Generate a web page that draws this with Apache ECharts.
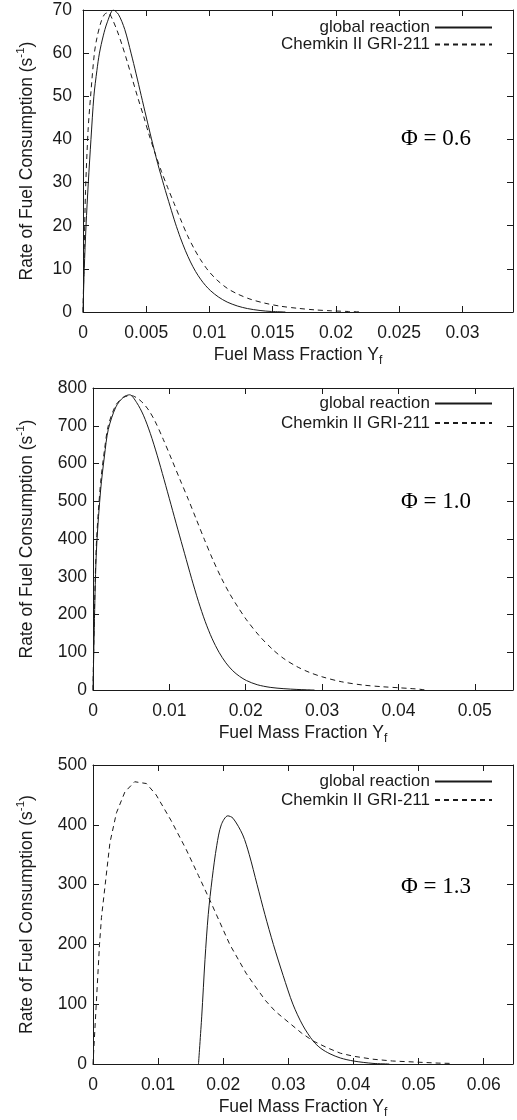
<!DOCTYPE html>
<html>
<head>
<meta charset="utf-8">
<script src="https://cdn.jsdelivr.net/npm/echarts@6/dist/echarts.min.js"></script>
<style>
html,body{margin:0;padding:0;background:#fff;}
#c{width:517px;height:1120px;}
</style>
</head>
<body>
<div id="c"></div>
<script>
// ---- data (x = fuel mass fraction, y = rate of fuel consumption, s^-1) ----
const seriesNames = ['global reaction', 'Chemkin II GRI-211'];
const phiLabels = ['\u03A6 = 0.6', '\u03A6 = 1.0', '\u03A6 = 1.3'];

const global06 = [[0,0],[0.0001,10],[0.00024,20],[0.00042,30],[0.00063,40],[0.00086,50],[0.0011,56],[0.0013,60],[0.0016,64],[0.0019,67],[0.0024,70],[0.0028,69],[0.0033,65.5],[0.0038,60],[0.0042,55.2],[0.0046,50.2],[0.005,45.2],[0.0054,40.3],[0.0059,34.5],[0.0064,29.3],[0.0069,24.4],[0.0073,20.6],[0.0077,17.2],[0.0081,14.2],[0.0085,11.6],[0.0089,9.4],[0.0093,7.6],[0.0097,6.1],[0.0101,4.9],[0.0107,3.5],[0.0114,2.3],[0.0122,1.4],[0.013,0.8],[0.014,0.35],[0.0149,0.12],[0.016,0]];
const gri06 = [[0,0],[0.0001,15],[0.0002,28],[0.0004,42],[0.0006,50],[0.0009,60],[0.0011,63.5],[0.0014,67],[0.0017,69],[0.002,69.4],[0.0023,68],[0.0027,65.2],[0.0031,61.8],[0.0035,58],[0.0039,54],[0.0043,50],[0.0048,45.3],[0.0052,41.3],[0.0057,36.8],[0.0062,32.6],[0.0067,28.8],[0.0072,25.2],[0.0077,21.6],[0.00825,17.8],[0.0088,14.6],[0.0093,12.1],[0.0099,9.6],[0.0106,7.4],[0.0114,5.5],[0.0122,4.2],[0.0132,3],[0.0143,2.1],[0.0156,1.35],[0.017,0.85],[0.0183,0.5],[0.0196,0.28],[0.021,0.12],[0.022,0]];

const global10 = [[0,0],[0.0001,100],[0.0003,280],[0.0005,390],[0.001,530],[0.0015,620],[0.002,690],[0.003,750],[0.004,776],[0.0048,782],[0.0057,762],[0.0066,728],[0.0075,680],[0.0084,622],[0.0093,558],[0.0102,492],[0.0111,426],[0.012,361],[0.0129,296],[0.0138,235],[0.0147,181],[0.0156,136],[0.0165,100],[0.0174,72],[0.0183,51],[0.0192,36],[0.0201,25],[0.0215,14],[0.0232,7],[0.025,3.5],[0.0267,1.5],[0.028,0.5],[0.029,0]];
const gri10 = [[0,0],[0.0001,120],[0.0003,300],[0.0005,410],[0.001,550],[0.0015,635],[0.002,700],[0.003,755],[0.004,775],[0.005,780],[0.0058,773],[0.00655,760],[0.0073,741],[0.0081,713],[0.0092,664],[0.0103,611],[0.0114,557],[0.0125,504],[0.01355,451],[0.0146,398],[0.0157,345],[0.0168,297],[0.0179,255],[0.019,219],[0.0201,186],[0.0218,143],[0.0236,106],[0.025,83],[0.0267,62],[0.0283,47],[0.03,35],[0.0325,22],[0.0354,13],[0.038,8.5],[0.04,6],[0.0415,4],[0.0428,2],[0.0435,0]];

const global13 = [[0.0162,0],[0.0167,80],[0.0172,175],[0.0177,250],[0.0183,310],[0.019,365],[0.0197,400],[0.0207,415],[0.0215,411],[0.023,383],[0.024,350],[0.0252,300],[0.0264,250],[0.0277,200],[0.0292,148],[0.0307,100],[0.0322,65],[0.0338,38.5],[0.035,26],[0.0364,17],[0.038,10],[0.04,5],[0.043,1],[0.0455,0]];
const gri13 = [[0,0],[0.0005,100],[0.001,200],[0.0013,245],[0.0026,370],[0.0036,420],[0.0049,455],[0.0064,472],[0.0082,469],[0.0097,450],[0.012,407],[0.0143,359],[0.0162,315],[0.0182,268],[0.021,200],[0.0235,152],[0.0251,127],[0.0265,106],[0.028,88],[0.03,70],[0.032,52],[0.0338,38.5],[0.036,27],[0.038,18],[0.04,13],[0.043,8],[0.046,5],[0.05,3],[0.053,1.5],[0.055,1]];

// axis ranges / tick steps per panel
const xMax = [0.034, 0.055, 0.0645];
const xStep = [0.005, 0.01, 0.01];
const yMax = [70, 800, 500];
const yStep = [10, 100, 100];

// ---- chart ----
const FONT = '"Liberation Sans", Arial, Helvetica, sans-serif';
const INK = '#1a1a1a';
const FS = 17.5;
const grids = [
  {left: 83, top: 10, width: 430, height: 302},
  {left: 93, top: 388, width: 420, height: 302},
  {left: 93, top: 765, width: 420, height: 302}
];
const legendTops = [19, 395, 773];
const legendGaps = [0, 2.4, 1.6];
const yLabelMargin = [11, 6, 6];
const yNameGap = [47, 57, 57];
const phiPos = [[436, 139], [436, 502], [436, 887]];

function fmt(step) {
  return function (v) {
    const k = v / step;
    if (Math.abs(k - Math.round(k)) > 1e-6) return '';
    return String(+v.toFixed(4));
  };
}
const axisLineStyle = {show: true, onZero: false, lineStyle: {color: INK, width: 1}};
const tickStyle = {show: true, inside: true, length: 6, lineStyle: {color: INK, width: 1}};

const xAxes = [], yAxes = [], series = [], legends = [], graphics = [];
const dataSets = [[global06, gri06], [global10, gri10], [global13, gri13]];

for (let i = 0; i < 3; i++) {
  xAxes.push({
    type: 'value', gridIndex: i, position: 'bottom', min: 0, max: xMax[i], interval: xStep[i],
    axisLine: axisLineStyle, axisTick: tickStyle, splitLine: {show: false},
    axisLabel: {fontSize: FS, fontFamily: FONT, color: INK, margin: 12, formatter: fmt(xStep[i])},
    name: '{a|Fuel Mass Fraction Y}{sub|f}', nameLocation: 'middle', nameGap: 34,
    nameTextStyle: {fontSize: FS, fontFamily: FONT, color: INK,
      rich: {a: {fontSize: FS, fontFamily: FONT, color: INK, lineHeight: 20, verticalAlign: 'top'},
             sub: {fontSize: 12, fontFamily: FONT, color: INK, lineHeight: 12, padding: [9, 0, 0, 0], verticalAlign: 'top'}}}
  });
  xAxes.push({
    type: 'value', gridIndex: i, position: 'top', min: 0, max: xMax[i], interval: xStep[i],
    axisLine: axisLineStyle, axisTick: tickStyle, axisLabel: {show: false}, splitLine: {show: false}
  });
  yAxes.push({
    type: 'value', gridIndex: i, position: 'left', min: 0, max: yMax[i], interval: yStep[i],
    axisLine: axisLineStyle, axisTick: tickStyle, splitLine: {show: false},
    axisLabel: {fontSize: FS, fontFamily: FONT, color: INK, margin: yLabelMargin[i], formatter: fmt(yStep[i])},
    name: '{a|Rate of Fuel Consumption (s}{sup|-1}{a|)}', nameLocation: 'middle', nameGap: yNameGap[i],
    nameTextStyle: {fontSize: FS, fontFamily: FONT, color: INK,
      rich: {a: {fontSize: FS, fontFamily: FONT, color: INK, lineHeight: 20, verticalAlign: 'bottom'},
             sup: {fontSize: 11.5, fontFamily: FONT, color: INK, lineHeight: 11, padding: [0, 0, 9, 0], verticalAlign: 'bottom'}}}
  });
  yAxes.push({
    type: 'value', gridIndex: i, position: 'right', min: 0, max: yMax[i], interval: yStep[i],
    axisLine: axisLineStyle, axisTick: tickStyle, axisLabel: {show: false}, splitLine: {show: false}
  });
  series.push({
    name: seriesNames[0], type: 'line', xAxisIndex: 2 * i, yAxisIndex: 2 * i,
    data: dataSets[i][0], symbol: 'none', smooth: 0.3,
    lineStyle: {color: INK, width: 1, type: 'solid'}, itemStyle: {color: INK}, animation: false
  });
  series.push({
    name: seriesNames[1], type: 'line', xAxisIndex: 2 * i, yAxisIndex: 2 * i,
    data: dataSets[i][1], symbol: 'none', smooth: i === 2 ? false : 0.3,
    lineStyle: {color: INK, width: 1, type: [5, 4]}, itemStyle: {color: INK}, animation: false
  });
  legends.push({
    orient: 'vertical', right: 24, top: legendTops[i], align: 'right', padding: 0,
    itemWidth: 57, itemHeight: 10, itemGap: legendGaps[i], selectedMode: false,
    itemStyle: {opacity: 0},
    textStyle: {fontSize: 17, fontFamily: FONT, color: INK, lineHeight: 16},
    data: seriesNames.slice()
  });
  graphics.push({
    type: 'text', x: phiPos[i][0], y: phiPos[i][1], silent: true,
    style: {text: phiLabels[i], font: '23px "Liberation Serif", "Times New Roman", serif', fill: '#000',
            align: 'center', verticalAlign: 'middle'}
  });
}

const chart = echarts.init(document.getElementById('c'), null, {renderer: 'canvas'});
chart.setOption({
  animation: false,
  backgroundColor: '#fff',
  grid: grids,
  xAxis: xAxes,
  yAxis: yAxes,
  legend: legends,
  series: series,
  graphic: graphics
});
</script>
</body>
</html>
